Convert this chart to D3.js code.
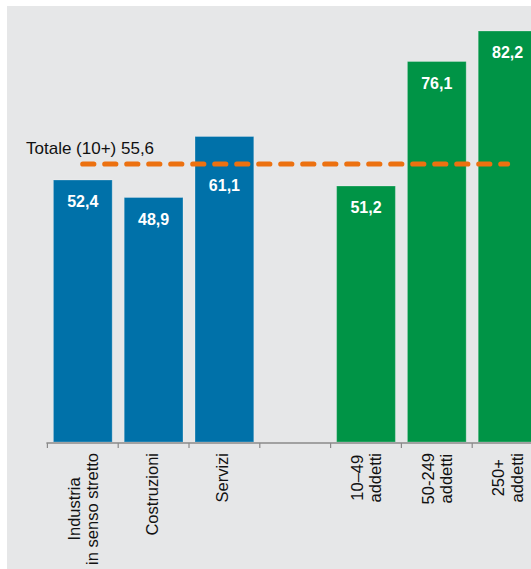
<!DOCTYPE html>
<html>
<head>
<meta charset="utf-8">
<script src="https://cdn.jsdelivr.net/npm/d3@7"></script>
<style>
	body { margin: 0; background: #fff; }
	svg { display: block; font-family: "Liberation Sans", Arial, sans-serif; }
</style>
</head>
<body>
<div id="chart"></div>
<script>
// categories (empty slot separates sector bars from size bars)
var categories = ["Industria\nin senso stretto", "Costruzioni", "Servizi", "", "10\u201349\naddetti", "50-249\naddetti", "250+\naddetti"];
var values = [52.4, 48.9, 61.1, null, 51.2, 76.1, 82.2];
var groups = ["settore", "settore", "settore", "", "dimensione", "dimensione", "dimensione"];
var totalLabel = "Totale (10+)";
var totalValue = 55.6;

var width = 531, height = 569;
var colors = { settore: "#0071a9", dimensione: "#009446" };
var it = d3.formatLocale({ decimal: ",", thousands: ".", grouping: [3], currency: ["", "€"] });
var fmt = it.format(".1f");

var svg = d3.select("#chart").append("svg")
	.attr("width", width)
	.attr("height", height);

svg.append("rect").attr("x", 7).attr("y", 6)
	.attr("width", width - 7).attr("height", height - 6)
	.attr("fill", "#e6e7e8");

var keys = categories.map(function (c, i) { return i; });

var x = d3.scaleBand().domain(keys)
	.range([47.4, 543])
	.paddingInner(0.17).paddingOuter(0.085);

var y = d3.scaleLinear().domain([0, 88.4]).range([442, 0]);

var data = keys.map(function (i) {
	return { i: i, label: categories[i], value: values[i], group: groups[i] };
});
var bars = data.filter(function (d) { return d.value != null; });

// bars
svg.selectAll("rect.bar").data(bars)
	.enter().append("rect")
	.attr("class", "bar")
	.attr("x", function (d) { return x(d.i); })
	.attr("y", function (d) { return y(d.value); })
	.attr("width", x.bandwidth())
	.attr("height", function (d) { return y(0) - y(d.value); })
	.attr("fill", function (d) { return colors[d.group]; })
	.attr("stroke", "rgba(255,255,255,0.25)")
	.attr("stroke-width", 1);

// total reference line
var xFirst = x(0) + x.bandwidth() / 2;
var xLast = x(keys.length - 1) + x.bandwidth() / 2;
svg.append("line")
	.attr("x1", xFirst).attr("x2", xLast)
	.attr("y1", y(totalValue)).attr("y2", y(totalValue))
	.attr("stroke", "#ec7110")
	.attr("stroke-width", 5.2)
	.attr("stroke-linecap", "round")
	.attr("stroke-dasharray", "11,11");

svg.append("text")
	.attr("x", 26).attr("y", y(totalValue) - 10)
	.attr("font-size", 17)
	.attr("fill", "#111")
	.text(totalLabel + " " + fmt(totalValue));

// value labels (pushed below the total line when they would overlap it)
svg.selectAll("text.val").data(bars)
	.enter().append("text")
	.attr("class", "val")
	.attr("x", function (d) { return x(d.i) + x.bandwidth() / 2; })
	.attr("y", function (d) {
		var top = y(d.value), ly = y(totalValue);
		if (top < ly && top + 32 > ly) return ly + 27;
		return top + 27;
	})
	.attr("text-anchor", "middle")
	.attr("fill", "#fff")
	.attr("font-weight", "bold")
	.attr("font-size", 16)
	.text(function (d) { return fmt(d.value); });

// axis
var step = x.step(), half = step * x.paddingInner() / 2;
var axisY = y(0) + 1;
svg.append("line")
	.attr("x1", x(0) - half - 1).attr("x2", width)
	.attr("y1", axisY).attr("y2", axisY)
	.attr("stroke", "#8a8a8a").attr("stroke-width", 1.5);
svg.selectAll("line.tick").data(keys)
	.enter().append("line")
	.attr("class", "tick")
	.attr("x1", function (d) { return x(d) - half; })
	.attr("x2", function (d) { return x(d) - half; })
	.attr("y1", axisY).attr("y2", axisY + 5)
	.attr("stroke", "#8a8a8a").attr("stroke-width", 1.2);

// category labels (rotated, lines centered, block anchored at top)
data.forEach(function (d) {
	if (!d.label) return;
	var lines = d.label.split("\n");
	var cx = x(d.i) + x.bandwidth() / 2;
	var g = svg.append("g")
		.attr("transform", "translate(" + cx + ",453) rotate(-90)");
	var texts = lines.map(function (ln, k) {
		var off = lines.length > 1 ? -3.3 + k * 18.6 : 4;
		return g.append("text")
			.attr("y", off)
			.attr("text-anchor", "middle")
			.attr("font-size", 16.5)
			.attr("fill", "#111")
			.text(ln);
	});
	var maxLen = d3.max(texts, function (t) { return t.node().getComputedTextLength(); });
	texts.forEach(function (t) { t.attr("x", -maxLen / 2); });
});
</script>
</body>
</html>
